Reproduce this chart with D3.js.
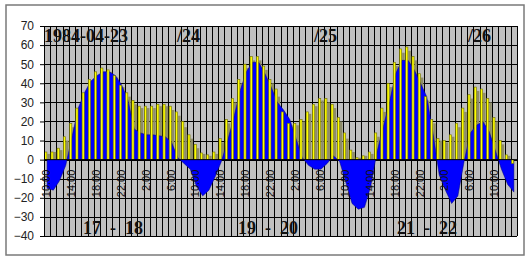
<!DOCTYPE html>
<html>
<head>
<meta charset="utf-8">
<script src="https://cdn.jsdelivr.net/npm/d3@7"></script>
<style>
  body { margin: 0; background: #fff; }
</style>
</head>
<body>
<div id="chart"></div>
<script>
// Hourly categories, 1984-04-23 10:00 through 04-26 13:00
const hours = [10,11,12,13,14,15,16,17,18,19,20,21,22,23,
  0,1,2,3,4,5,6,7,8,9,10,11,12,13,14,15,16,17,18,19,20,21,22,23,
  0,1,2,3,4,5,6,7,8,9,10,11,12,13,14,15,16,17,18,19,20,21,22,23,
  0,1,2,3,4,5,6,7,8,9,10,11,12,13];

// Yellow bars
const yellow = [4,4,6,12,19,27,35,42,46,48,47,44,39,35,
  31,28,28,28,29,29,28,25,20,13,8,3.5,2.5,4,11,21,32,42,50,54,54,49,42,37,
  25,19,19,21,25,29,32,32,29,22,14,5,1,2,4,14,27,40,51,58,59,54,45,33,
  21,11,10,13,19,27,34,38,37,32,22,10,2.5,-2];

// Olive-grey bars (second series, mostly hidden behind the blue area)
const olive = [3,4,5,10,17,25,33,40,44,46,46,43,38,33,
  29,27,27,27,28,28,26,23,17,11,6,3,2,3,9,19,30,40,48,52,52,47,40,33,
  23,18,18,20,24,28,31,30,27,20,11,4,1,2,3,12,25,38,49,56,57,52,43,31,
  19,10,9,12,17,25,32,36,35,30,20,8,2,0];

// Blue area
const blue = [-15,-16,-11,-3,12,27,35,41,44,46,46,44,39,31,
  16,14,13,13,12.5,12,9,1,-2,-5,-14,-19,-16,-9,-1,10,22,36,46,51,51,45,38,30,
  26,21,11,1,-3,-5,-5,-2,2,-1,-12,-23,-26,-25,-14,4,17,30,45,52,52,47,40,33,
  14,-8,-16,-23,-19,-1,14,18,20,15,5,-5,-13,-17];

const yTicks = [-40,-30,-20,-10,0,10,20,30,40,50,60,70];

const dateLabels = [
  {text: "1984-04-23", x: 44},
  {text: "/24", x: 177},
  {text: "/25", x: 314},
  {text: "/26", x: 468}
];
const dayPairs = [
  {text: "17  -  18", x: 83},
  {text: "19  -  20", x: 238},
  {text: "21  -  22", x: 397}
];

const W = 529, H = 261;
const plot = {left: 44, right: 517, top: 26, bottom: 236};

const svg = d3.select("#chart").append("svg")
    .attr("width", W)
    .attr("height", H);

// chart area border
svg.append("rect")
    .attr("x", 6).attr("y", 5)
    .attr("width", 518).attr("height", 250)
    .attr("fill", "#fff")
    .attr("stroke", "#7a7a7a")
    .attr("stroke-width", 1.5);

const x = d3.scaleBand()
    .domain(d3.range(hours.length))
    .range([plot.left, plot.right])
    .padding(0);

const y = d3.scaleLinear()
    .domain([-40, 70])
    .range([plot.bottom, plot.top]);

const bw = x.bandwidth();

// plot background
svg.append("rect")
    .attr("x", plot.left).attr("y", plot.top)
    .attr("width", plot.right - plot.left)
    .attr("height", plot.bottom - plot.top)
    .attr("fill", "#c0c0c0");

// vertical grid, one line per hour
svg.append("g")
    .selectAll("line")
    .data(d3.range(hours.length + 1))
    .join("line")
    .attr("x1", i => Math.round(plot.left + i * bw) + 0.5)
    .attr("x2", i => Math.round(plot.left + i * bw) + 0.5)
    .attr("y1", plot.top).attr("y2", plot.bottom)
    .attr("stroke", "#000").attr("stroke-width", 1);

// horizontal grid
svg.append("g")
    .selectAll("line")
    .data(yTicks)
    .join("line")
    .attr("x1", plot.left).attr("x2", plot.right)
    .attr("y1", d => Math.round(y(d)) + 0.5)
    .attr("y2", d => Math.round(y(d)) + 0.5)
    .attr("stroke", "#000").attr("stroke-width", 1);

// olive bars (right part of each hour)
svg.append("g")
    .selectAll("rect")
    .data(olive)
    .join("rect")
    .attr("x", (d, i) => x(i) + bw / 2 + 0.3)
    .attr("y", d => y(Math.max(0, d)))
    .attr("width", bw * 0.4)
    .attr("height", d => Math.abs(y(d) - y(0)))
    .attr("fill", "#8e8c68");

// blue area
const area = d3.area()
    .x((d, i) => x(i) + bw / 2)
    .y0(y(0))
    .y1(d => y(d));

svg.append("path")
    .datum(blue)
    .attr("d", area)
    .attr("fill", "#0000ff")
    .attr("stroke", "#00007a")
    .attr("stroke-width", 0.5);

// yellow bars (left part of each hour)
svg.append("g")
    .selectAll("rect")
    .data(yellow)
    .join("rect")
    .attr("x", (d, i) => x(i) + bw / 2 - 2.4)
    .attr("y", d => y(Math.max(0, d)))
    .attr("width", 2.2)
    .attr("height", d => Math.abs(y(d) - y(0)))
    .attr("fill", "#ffff00")
    .attr("stroke", "#6e6e00")
    .attr("stroke-width", 0.6);

// y axis
const yAxis = svg.append("g")
    .attr("transform", `translate(${plot.left},0)`)
    .call(d3.axisLeft(y).tickValues(yTicks).tickSize(4).tickPadding(6));
yAxis.select(".domain").attr("stroke", "#000");
yAxis.selectAll(".tick line").attr("stroke", "#000");
yAxis.selectAll("text")
    .attr("font-family", "Liberation Sans, Arial, sans-serif")
    .attr("font-size", 12)
    .attr("fill", "#222");

// category axis at zero
svg.append("line")
    .attr("x1", plot.left).attr("x2", plot.right)
    .attr("y1", y(0)).attr("y2", y(0))
    .attr("stroke", "#000").attr("stroke-width", 1);

// hour labels every 4 hours, rotated
svg.append("g")
    .selectAll("text")
    .data(d3.range(0, hours.length, 4))
    .join("text")
    .attr("transform", i => `translate(${x(i) + bw / 2 + 3},${y(0) + 10}) rotate(-90)`)
    .attr("text-anchor", "end")
    .attr("font-family", "Liberation Sans, Arial, sans-serif")
    .attr("font-size", 11)
    .attr("fill", "#111")
    .text(i => hours[i] + ":00");

// date labels at the top
svg.append("g")
    .selectAll("text")
    .data(dateLabels)
    .join("text")
    .attr("x", d => d.x).attr("y", 42)
    .attr("font-family", "Liberation Serif, Times New Roman, serif")
    .attr("font-weight", "bold")
    .attr("font-size", 18)
    .attr("fill", "#111")
    .text(d => d.text);

// day pair labels at the bottom
svg.append("g")
    .selectAll("text")
    .data(dayPairs)
    .join("text")
    .attr("x", d => d.x).attr("y", 234)
    .attr("font-family", "Liberation Serif, Times New Roman, serif")
    .attr("font-weight", "bold")
    .attr("font-size", 18)
    .attr("fill", "#111")
    .style("white-space", "pre")
    .text(d => d.text);
</script>
</body>
</html>
